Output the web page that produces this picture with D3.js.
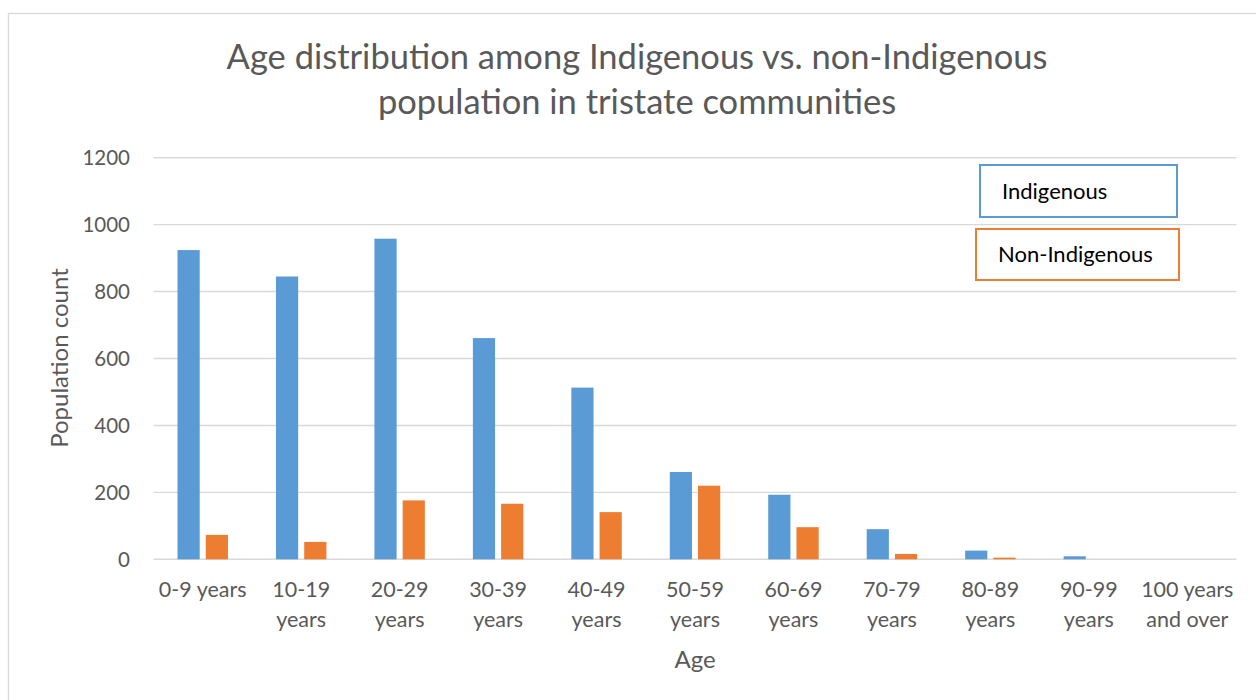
<!DOCTYPE html>
<html>
<head>
<meta charset="utf-8">
<script src="https://cdn.jsdelivr.net/npm/d3@7"></script>
<style>
  html, body { margin: 0; padding: 0; background: #fff; }
  svg { display: block; }
  text { font-family: Lato, "Open Sans", sans-serif; }
</style>
</head>
<body>
<svg id="chart" width="1256" height="700"></svg>
<script>
const categories = ["0-9 years", "10-19 years", "20-29 years", "30-39 years", "40-49 years",
  "50-59 years", "60-69 years", "70-79 years", "80-89 years", "90-99 years", "100 years and over"];
const categoryLines = [["0-9 years"], ["10-19", "years"], ["20-29", "years"], ["30-39", "years"],
  ["40-49", "years"], ["50-59", "years"], ["60-69", "years"], ["70-79", "years"],
  ["80-89", "years"], ["90-99", "years"], ["100 years", "and over"]];
const seriesNames = ["Indigenous", "Non-Indigenous"];
const indigenous = [924, 845, 958, 661, 513, 261, 193, 90, 26, 9, 0];
const nonIndigenous = [73, 52, 176, 166, 141, 220, 96, 16, 5, 0, 0];
const yTicks = [0, 200, 400, 600, 800, 1000, 1200];
const titleLines = ["Age distribution among Indigenous vs. non-Indigenous", "population in tristate communities"];
const colors = ["#5b9bd5", "#ed7d31"];

const svg = d3.select("#chart");

// chart border
svg.append("rect").attr("x", 8.5).attr("y", 13.5).attr("width", 1260).attr("height", 700)
  .attr("fill", "none").attr("stroke", "#d9d9d9").attr("stroke-width", 1.3);

const plot = { left: 153.5, right: 1236.5, top: 157.7, bottom: 559.3 };

const x0 = d3.scaleBand().domain(categories).range([plot.left, plot.right]).paddingInner(0).paddingOuter(0);
const x1 = d3.scaleBand().domain(seriesNames).range([0, x0.bandwidth()]).paddingInner(0.214).paddingOuter(0.85);
const y = d3.scaleLinear().domain([0, 1200]).range([plot.bottom, plot.top]);

// gridlines
svg.append("g").selectAll("line").data(yTicks).join("line")
  .attr("x1", plot.left).attr("x2", plot.right)
  .attr("y1", d => y(d)).attr("y2", d => y(d))
  .attr("stroke", "#d9d9d9").attr("stroke-width", 1.4);

// y axis labels via d3 axis
const yAxis = d3.axisLeft(y).tickValues(yTicks).tickSize(0).tickPadding(0).tickFormat(d3.format("d"));
const yg = svg.append("g").attr("transform", `translate(130,0)`).call(yAxis);
yg.select(".domain").remove();
yg.selectAll("text").attr("font-family", "Lato, sans-serif").attr("font-size", 20.5).attr("fill", "#595959").attr("dy", "0.35em");

// bars
const data = categories.map((c, i) => ({ cat: c, vals: [indigenous[i], nonIndigenous[i]] }));
const groups = svg.append("g").selectAll("g").data(data).join("g")
  .attr("transform", d => `translate(${x0(d.cat)},0)`);
groups.selectAll("rect").data(d => d.vals.map((v, k) => ({ name: seriesNames[k], v, k })))
  .join("rect")
  .attr("x", d => x1(d.name))
  .attr("width", x1.bandwidth())
  .attr("y", d => y(d.v))
  .attr("height", d => y(0) - y(d.v))
  .attr("fill", d => colors[d.k]);

// x axis labels
const xg = svg.append("g");
categoryLines.forEach((lines, i) => {
  const cx = x0(categories[i]) + x0.bandwidth() / 2;
  const t = xg.append("text").attr("text-anchor", "middle").attr("font-size", 21.5).attr("fill", "#595959");
  lines.forEach((ln, j) => {
    t.append("tspan").attr("x", cx).attr("y", 597 + j * 30).text(ln);
  });
});

// axis titles
svg.append("text").attr("x", 695).attr("y", 668).attr("text-anchor", "middle")
  .attr("font-size", 24).attr("fill", "#595959").text("Age");
svg.append("text").attr("transform", "translate(68,358) rotate(-90)").attr("text-anchor", "middle")
  .attr("font-size", 24).attr("fill", "#595959").text("Population count");

// title
titleLines.forEach((ln, j) => {
  svg.append("text").attr("x", 637).attr("y", 69 + j * 45).attr("text-anchor", "middle")
    .attr("font-size", 34.5).attr("fill", "#595959").text(ln);
});

// legend boxes
const legendBoxes = [
  { x: 980, y: 165, w: 197, h: 52, tx: 1002, ty: 199 },
  { x: 976, y: 229, w: 203, h: 51, tx: 998, ty: 262 }
];
seriesNames.forEach((n, k) => {
  const b = legendBoxes[k];
  svg.append("rect").attr("x", b.x).attr("y", b.y).attr("width", b.w).attr("height", b.h)
    .attr("fill", "#fff").attr("stroke", colors[k]).attr("stroke-width", 2);
  svg.append("text").attr("x", b.tx).attr("y", b.ty).attr("font-size", 22).attr("fill", "#000").text(n);
});
</script>
</body>
</html>
